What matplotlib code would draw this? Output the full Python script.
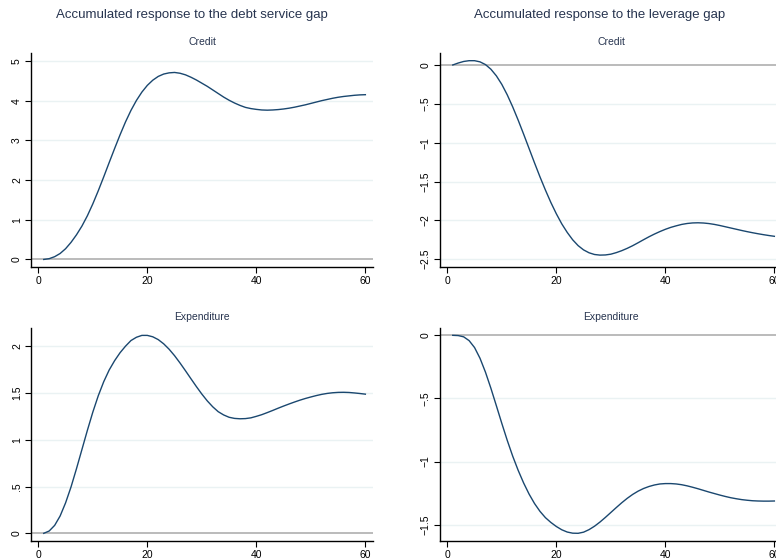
import numpy as np
import matplotlib
matplotlib.use("Agg")
import matplotlib.pyplot as plt

plt.rcParams['font.family'] = ['Liberation Sans', 'DejaVu Sans']

# horizons 1..60
horizon = np.arange(1, 61)

# accumulated responses
credit_dsr = [0.000, 0.020, 0.070, 0.150, 0.270, 0.430, 0.620, 0.840, 1.100, 1.400,
              1.730, 2.080, 2.440, 2.795, 3.140, 3.465, 3.755, 4.005, 4.215, 4.385,
              4.515, 4.610, 4.670, 4.700, 4.710, 4.690, 4.650, 4.590, 4.520, 4.440,
              4.360, 4.270, 4.180, 4.090, 4.010, 3.940, 3.880, 3.830, 3.800, 3.780,
              3.765, 3.760, 3.765, 3.775, 3.790, 3.810, 3.835, 3.865, 3.895, 3.930,
              3.965, 4.000, 4.030, 4.060, 4.085, 4.105, 4.120, 4.135, 4.145, 4.150]

credit_lev = [0.000, 0.025, 0.045, 0.055, 0.055, 0.040, 0.005, -0.055, -0.140, -0.250,
              -0.385, -0.540, -0.710, -0.890, -1.075, -1.260, -1.440, -1.610, -1.770, -1.915,
              -2.045, -2.155, -2.250, -2.325, -2.380, -2.417, -2.439, -2.447, -2.445, -2.435,
              -2.415, -2.390, -2.360, -2.326, -2.288, -2.249, -2.211, -2.176, -2.144, -2.115,
              -2.090, -2.070, -2.052, -2.040, -2.033, -2.031, -2.034, -2.041, -2.052, -2.066,
              -2.082, -2.098, -2.114, -2.130, -2.145, -2.159, -2.172, -2.184, -2.195, -2.205]

exp_dsr = [0.000, 0.025, 0.085, 0.185, 0.325, 0.495, 0.690, 0.895, 1.100, 1.295,
           1.470, 1.620, 1.745, 1.845, 1.930, 2.000, 2.060, 2.095, 2.115, 2.115,
           2.100, 2.070, 2.025, 1.967, 1.898, 1.820, 1.737, 1.652, 1.568, 1.488,
           1.415, 1.352, 1.300, 1.265, 1.240, 1.228, 1.224, 1.226, 1.234, 1.250,
           1.268, 1.290, 1.313, 1.337, 1.360, 1.382, 1.403, 1.423, 1.441, 1.457,
           1.472, 1.485, 1.495, 1.502, 1.506, 1.507, 1.505, 1.500, 1.494, 1.487]

exp_lev = [0.000, -0.002, -0.012, -0.042, -0.097, -0.182, -0.292, -0.420, -0.558, -0.698,
           -0.833, -0.958, -1.070, -1.170, -1.258, -1.333, -1.395, -1.445, -1.483, -1.515,
           -1.541, -1.559, -1.568, -1.569, -1.560, -1.540, -1.513, -1.480, -1.443, -1.404,
           -1.365, -1.327, -1.292, -1.261, -1.235, -1.214, -1.198, -1.186, -1.178, -1.175,
           -1.175, -1.178, -1.184, -1.193, -1.204, -1.216, -1.229, -1.242, -1.254, -1.266,
           -1.277, -1.287, -1.295, -1.302, -1.307, -1.311, -1.313, -1.314, -1.314, -1.313]

col_titles = ["Accumulated response to the debt service gap",
              "Accumulated response to the leverage gap"]
row_titles = ["Credit", "Expenditure"]

x_ticks = [0, 20, 40, 60]
yt_credit_dsr = [0, 1, 2, 3, 4, 5]
yl_credit_dsr = ["0", "1", "2", "3", "4", "5"]
yt_credit_lev = [0, -0.5, -1, -1.5, -2, -2.5]
yl_credit_lev = ["0", "\u2212.5", "\u22121", "\u22121.5", "\u22122", "\u22122.5"]
yt_exp_dsr = [0, 0.5, 1, 1.5, 2]
yl_exp_dsr = ["0", ".5", "1", "1.5", "2"]
yt_exp_lev = [0, -0.5, -1, -1.5]
yl_exp_lev = ["0", "\u2212.5", "\u22121", "\u22121.5"]

line_col = '#1a476f'
grid_col = '#eaf2f3'
text_col = '#27344f'

W, H = 776, 559
fig = plt.figure(figsize=(W / 100, H / 100), dpi=100)

def px_axes(left, top, right, bottom):
    return fig.add_axes([left / W, 1 - bottom / H, (right - left) / W, (bottom - top) / H])

# right-hand panels run past the figure edge, as in the cropped original
panels = [
    (31, 53, 373, 267, credit_dsr, yt_credit_dsr, yl_credit_dsr, (-0.19, 5.20), row_titles[0]),
    (440, 53, 782, 267, credit_lev, yt_credit_lev, yl_credit_lev, (-2.60, 0.154), row_titles[0]),
    (31, 328, 373, 541, exp_dsr, yt_exp_dsr, yl_exp_dsr, (-0.082, 2.194), row_titles[1]),
    (440, 328, 782, 541, exp_lev, yt_exp_lev, yl_exp_lev, (-1.63, 0.058), row_titles[1]),
]

for left, top, right, bottom, vals, yt, yl, ylim, sub in panels:
    ax = px_axes(left, top, right, bottom)
    for t in yt:
        if t == 0:
            ax.axhline(0, color='#a8a8a8', lw=1.1, zorder=1)
        else:
            ax.axhline(t, color=grid_col, lw=1.0, zorder=0)
    ax.plot(horizon, vals, color=line_col, lw=1.0, zorder=3)
    ax.set_xlim(-1.34, 61.4)
    ax.set_ylim(*ylim)
    ax.set_xticks(x_ticks)
    ax.set_xticklabels([str(v) for v in x_ticks])
    ax.set_yticks(yt)
    ax.set_yticklabels(yl, rotation=90, va='center')
    ax.tick_params(axis='both', labelsize=7.5, length=4.5, width=0.8, color='black', pad=2)
    for s in ['top', 'right']:
        ax.spines[s].set_visible(False)
    for s in ['left', 'bottom']:
        ax.spines[s].set_linewidth(1.0)
    ax.set_title(sub, fontsize=7.5, color=text_col, pad=6)

fig.text(192 / W, 1 - 15 / H, col_titles[0], ha='center', va='center', fontsize=9.5, color=text_col)
fig.text(600 / W, 1 - 15 / H, col_titles[1], ha='center', va='center', fontsize=9.5, color=text_col)

fig.savefig('out.png', dpi=100, facecolor='white')
